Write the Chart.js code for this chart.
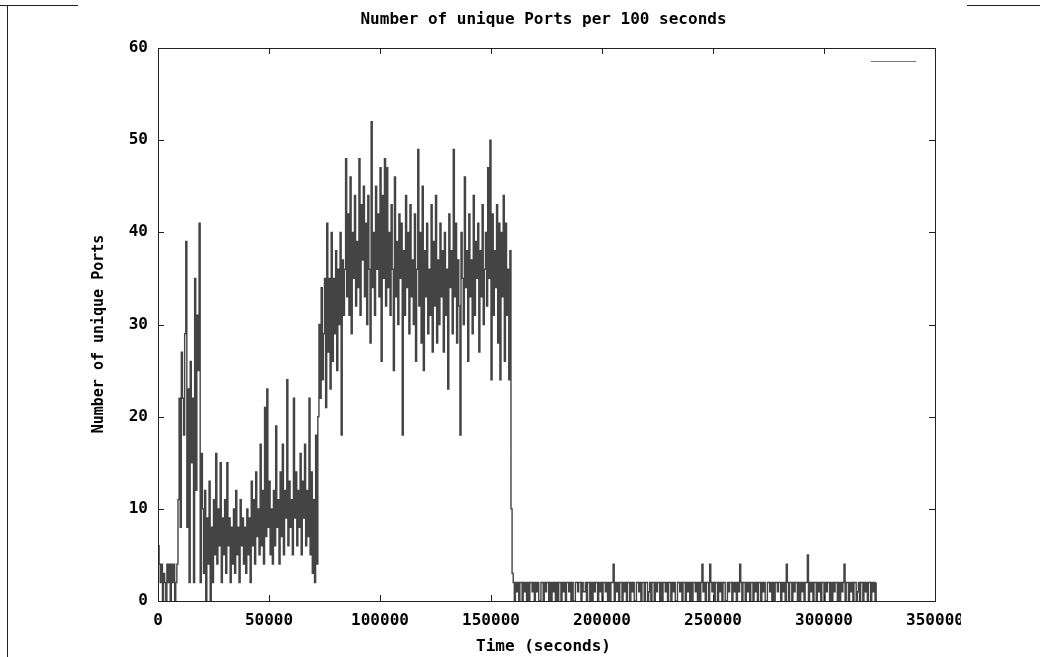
<!DOCTYPE html>
<html>
<head>
<meta charset="utf-8">
<script src="https://cdn.jsdelivr.net/npm/chart.js@4.4.0/dist/chart.umd.min.js"></script>
<style>
  html, body { margin: 0; padding: 0; background: #fff; }
  body { width: 1040px; height: 657px; position: relative; overflow: hidden; }
  .line { position: absolute; background: #222; }
  #portsChart { position: absolute; left: 78px; top: 0; background: #fff; }
</style>
</head>
<body>
<div class="line" style="left:0;top:5px;width:78px;height:1px"></div>
<div class="line" style="left:967px;top:5px;width:73px;height:1px"></div>
<div class="line" style="left:7px;top:5px;width:1px;height:652px"></div>
<canvas id="portsChart" width="883" height="657"></canvas>
<script>
// Values, one sample every 500 seconds
const stepSeconds = 500;

const quietStart = [6, 4, 2, 4, 0, 3, 2, 0, 4, 2, 4, 0, 4, 2, 4, 0, 2, 4];

const earlyBurst = [11, 22, 8, 27, 22, 18, 29, 39, 8, 23, 2, 26, 15, 22, 2, 35, 12, 31, 25, 41, 2, 16, 10];

const lowActivity = [
    3, 12, 0, 9, 4, 13, 0, 8, 2, 11,
    5, 16, 4, 10, 6, 15, 2, 9, 5, 11,
    3, 15, 6, 9, 2, 8, 4, 10, 3, 12,
    5, 8, 2, 11, 6, 9, 4, 8, 3, 10,
    5, 9, 2, 13, 6, 11, 4, 14, 7, 10,
    5, 17, 6, 12, 4, 21, 7, 23, 8, 13,
    5, 10, 4, 12, 6, 19, 8, 11, 4, 14,
    7, 17, 5, 12, 9, 24, 6, 13, 8, 11,
    5, 22, 9, 14, 6, 12, 8, 16, 5, 13,
    9, 17, 6, 12, 7, 22, 5, 14, 3, 11,
    2, 18, 4
];

const rampUp = [20, 30, 22, 34, 24, 29, 35, 21, 41, 27, 35, 23, 40, 26, 35, 29, 38, 25, 36, 30, 40, 18, 37, 31];

const plateau = [
    36, 48, 33, 42, 31, 46, 29, 40, 35, 44,
    32, 39, 34, 48, 31, 43, 37, 45, 33, 41,
    30, 44, 36, 28, 52, 34, 40, 31, 45, 36,
    42, 33, 47, 26, 44, 35, 48, 32, 47, 34,
    40, 31, 43, 36, 25, 46, 33, 39, 30, 42,
    35, 41, 18, 38, 31, 44, 34, 40, 29, 43,
    33, 37, 30, 42, 26, 36, 49, 32, 40, 28,
    45, 25, 38, 33, 41, 29, 36, 31, 43, 27,
    39, 32, 44, 28, 37, 30, 41, 33, 38, 27,
    40, 31, 36, 23, 42, 34, 38, 29, 49, 33,
    41, 28, 37, 32, 18, 40, 35, 30, 46, 34,
    38, 26, 42, 33, 37, 29, 44, 31, 39, 35,
    41, 27, 38, 33, 43, 30, 36, 40, 32, 47,
    35, 50, 24, 42, 31, 38, 34, 43, 28, 41,
    24, 40, 33, 44, 26, 41, 31, 36
];

const dropOff = [24, 38, 10, 3];

const tail = [
    2, 0, 2, 1, 2, 0, 2, 2, 0, 2, 1, 2, 0, 2, 0, 2, 2, 1, 2, 0,
    2, 1, 2, 0, 0, 2, 2, 0, 2, 1, 2, 2, 0, 2, 0, 2, 1, 2, 0, 2,
    0, 2, 2, 0, 2, 1, 2, 0, 2, 2, 1, 2, 0, 2, 0, 0, 2, 2, 1, 2,
    2, 0, 2, 1, 1, 2, 0, 2, 2, 0, 2, 0, 2, 1, 2, 2, 0, 2, 1, 2,
    0, 2, 2, 1, 2, 0, 2, 0, 2, 2, 4, 0, 2, 1, 2, 0, 2, 2, 0, 2,
    1, 2, 0, 2, 2, 0, 2, 1, 2, 0, 0, 2, 2, 1, 2, 0, 2, 2, 0, 2,
    2, 0, 1, 2, 0, 2, 2, 0, 2, 1, 2, 2, 0, 2, 0, 2, 2, 1, 2, 0,
    2, 2, 0, 2, 1, 2, 0, 0, 2, 2, 1, 2, 0, 2, 2, 0, 2, 1, 2, 0,
    2, 0, 2, 2, 1, 2, 0, 2, 0, 2, 4, 1, 2, 0, 2, 2, 0, 4, 2, 1,
    2, 0, 2, 2, 0, 2, 1, 2, 0, 2, 2, 0, 0, 2, 1, 2, 2, 0, 2, 1,
    2, 0, 2, 1, 4, 2, 0, 2, 2, 0, 2, 1, 2, 0, 2, 2, 0, 2, 1, 2,
    0, 2, 2, 0, 2, 1, 2, 0, 0, 2, 2, 1, 2, 0, 2, 0, 2, 2, 1, 2,
    2, 0, 2, 1, 2, 0, 4, 2, 0, 2, 2, 0, 2, 1, 2, 2, 0, 2, 0, 2,
    1, 2, 0, 2, 2, 5, 0, 2, 1, 2, 0, 2, 2, 0, 2, 1, 2, 0, 2, 2,
    0, 2, 1, 2, 2, 0, 2, 0, 2, 1, 2, 2, 0, 2, 0, 2, 1, 2, 4, 0,
    2, 2, 0, 2, 1, 2, 0, 2, 2, 0, 1, 2, 0, 2, 2, 0, 2, 1, 2, 0,
    2, 2, 0, 2, 1, 2, 0, 2
];

const xTicks = [0, 50000, 100000, 150000, 200000, 250000, 300000, 350000];
const yTicks = [0, 10, 20, 30, 40, 50, 60];

const chartTitle = 'Number of unique Ports per 100 seconds';
const xTitle = 'Time (seconds)';
const yTitle = 'Number of unique Ports';

document.addEventListener("DOMContentLoaded", function() {
    const ctx = document.getElementById('portsChart');
    if (!ctx) return;

    const seriesColor = '#444444';
    const fontFamily = '"DejaVu Sans Mono", "Liberation Mono", monospace';

    // join the phases into one {x, y} series
    const allValues = [].concat(quietStart, earlyBurst, lowActivity, rampUp, plateau, dropOff, tail);
    const points = allValues.map(function(v, i) {
        return { x: i * stepSeconds, y: v };
    });

    // gnuplot look: frame, inward ticks on all four sides, empty key, titles
    const gnuplotFrame = {
        id: 'gnuplotFrame',
        afterDraw: function(chart) {
            const c = chart.ctx;
            const a = chart.chartArea;
            const sx = chart.scales.x;
            const sy = chart.scales.y;
            c.save();
            c.strokeStyle = '#222';
            c.lineWidth = 1;
            c.strokeRect(a.left + 0.5, a.top + 0.5, a.right - a.left, a.bottom - a.top);
            c.beginPath();
            xTicks.forEach(function(v) {
                const px = Math.round(sx.getPixelForValue(v)) + 0.5;
                c.moveTo(px, a.bottom); c.lineTo(px, a.bottom - 6);
                c.moveTo(px, a.top); c.lineTo(px, a.top + 6);
            });
            yTicks.forEach(function(v) {
                const py = Math.round(sy.getPixelForValue(v)) + 0.5;
                c.moveTo(a.left, py); c.lineTo(a.left + 6, py);
                c.moveTo(a.right, py); c.lineTo(a.right - 6, py);
            });
            c.stroke();

            // key sample (the key has no text)
            c.strokeStyle = '#777';
            c.beginPath();
            c.moveTo(a.right - 64, a.top + 13.5);
            c.lineTo(a.right - 19, a.top + 13.5);
            c.stroke();

            c.fillStyle = '#000';
            c.font = 'bold 16px ' + fontFamily;
            c.textAlign = 'center';
            c.textBaseline = 'middle';
            const midX = (a.left + a.right) / 2 - 3;
            c.fillText(chartTitle, midX, 20);
            c.fillText(xTitle, midX, 647);
            c.font = 'bold 15px ' + fontFamily;
            c.translate(21, 334);
            c.rotate(-Math.PI / 2);
            c.fillText(yTitle, 0, 0);
            c.restore();
        }
    };

    new Chart(ctx, {
        type: 'line',
        data: {
            datasets: [{
                label: '',
                data: points,
                borderColor: seriesColor,
                borderWidth: 1.4,
                pointRadius: 0,
                stepped: true,
                fill: false
            }]
        },
        options: {
            responsive: false,
            animation: false,
            parsing: false,
            events: [],
            layout: { padding: { top: 48, right: 26, left: 0, bottom: 0 } },
            plugins: {
                legend: { display: false },
                tooltip: { enabled: false },
                title: { display: false }
            },
            scales: {
                x: {
                    type: 'linear',
                    min: 0,
                    max: 350000,
                    grid: { display: false, drawTicks: false },
                    border: { display: false },
                    afterBuildTicks: function(scale) {
                        scale.ticks = xTicks.map(function(v) { return { value: v }; });
                    },
                    afterFit: function(scale) {
                        scale.height = 56;
                        scale.paddingLeft = 0;
                        scale.paddingRight = 0;
                    },
                    ticks: {
                        padding: 10,
                        maxRotation: 0,
                        autoSkip: false,
                        color: '#000',
                        font: { family: fontFamily, size: 16, weight: 'bold' },
                        callback: function(value) { return String(value); }
                    }
                },
                y: {
                    min: 0,
                    max: 60,
                    grid: { display: false, drawTicks: false },
                    border: { display: false },
                    afterBuildTicks: function(scale) {
                        scale.ticks = yTicks.map(function(v) { return { value: v }; });
                    },
                    afterFit: function(scale) {
                        scale.width = 80;
                        scale.paddingTop = 0;
                        scale.paddingBottom = 0;
                    },
                    ticks: {
                        padding: 10,
                        color: '#000',
                        font: { family: fontFamily, size: 16, weight: 'bold' }
                    }
                }
            }
        },
        plugins: [gnuplotFrame]
    });
});
</script>
</body>
</html>
